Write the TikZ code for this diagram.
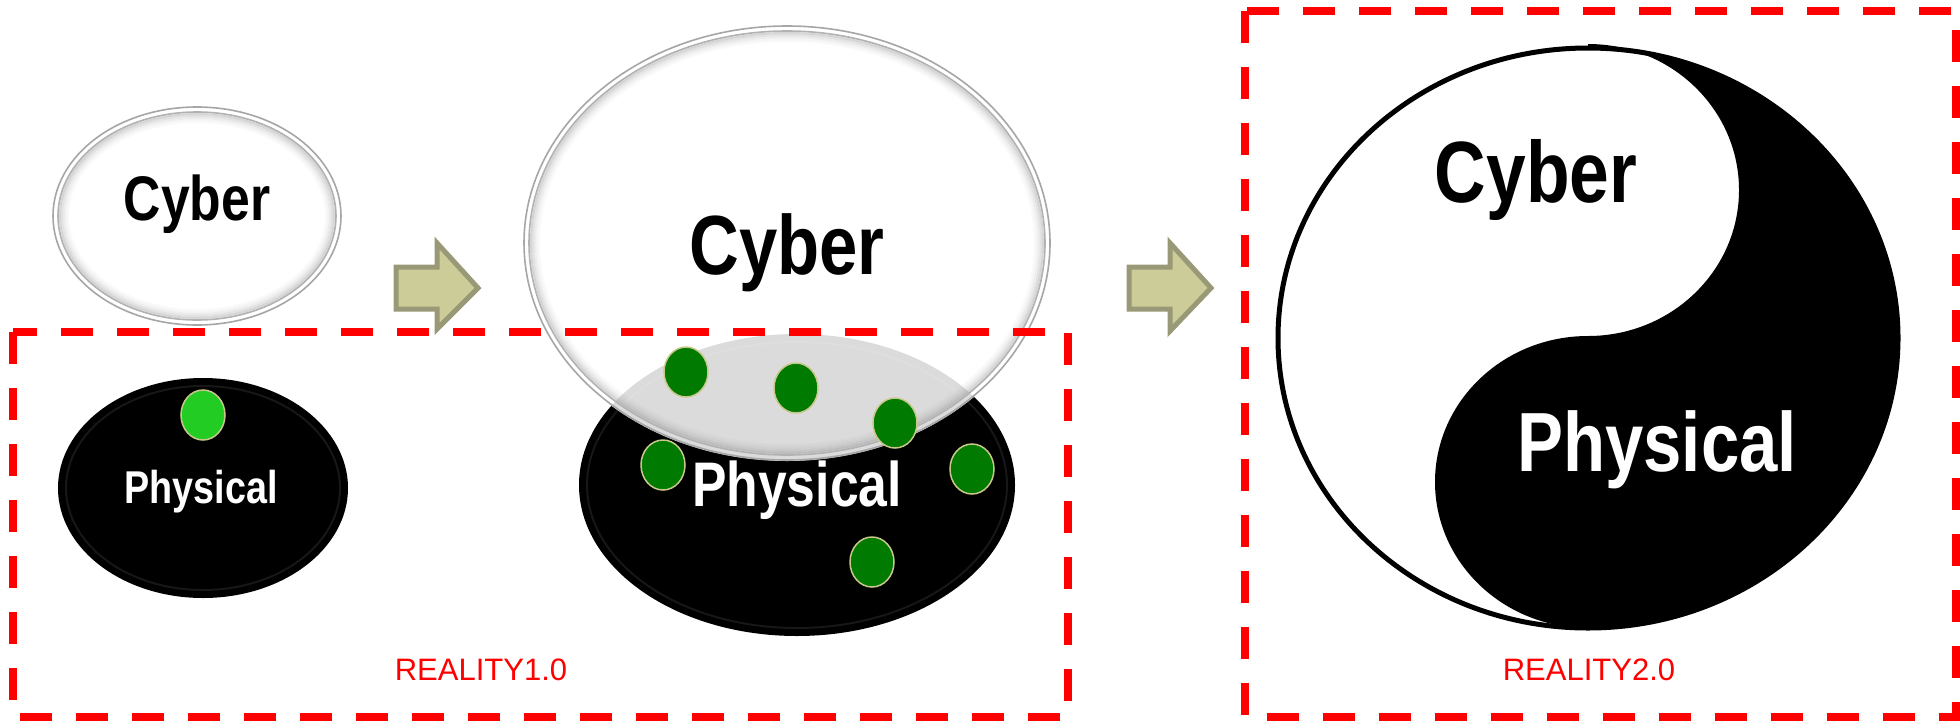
\documentclass[tikz,border=0pt]{standalone}
\usepackage{fontspec}
\setmainfont{Liberation Sans}
\newfontfamily\labelfont[FakeStretch=0.82]{Liberation Sans}

\definecolor{arrowfill}{HTML}{CCCC99}
\definecolor{arrowedge}{HTML}{999977}
\definecolor{brightgreen}{HTML}{22CC22}
\definecolor{darkgreen}{HTML}{007A00}
\definecolor{dottan}{HTML}{C8C88A}

\tikzset{
  reddash/.style={draw=red, line width=8pt, dash pattern=on 32pt off 24pt},
  word/.style={font=\labelfont\bfseries\fontsize{#1}{#1}\selectfont, inner sep=0pt, anchor=base},
  realitytag/.style={text=red, font=\fontsize{31}{31}\selectfont, inner sep=0pt, anchor=base},
  blockarrow/.style={fill=arrowfill, draw=arrowedge, line width=5pt, line join=miter},
  dotbright/.style={fill=brightgreen, draw=dottan, line width=1.5pt},
  dotdark/.style={fill=darkgreen, draw=dottan, line width=1.5pt},
  outerrim/.style={draw=gray!70, line width=1.6pt},
  innerrim/.style={draw=gray!60, line width=1.6pt},
  darkrim/.style={draw=gray!18!black, line width=2pt},
}

% bevelled glass rim of a white disc: centre, x radius, y radius
\newcommand\glassrim[3]{%
  \draw[outerrim] (#1) ellipse [x radius=#2-1, y radius=#3-1];
  \draw[innerrim] (#1) ellipse [x radius=#2-6, y radius=#3-6];
  \foreach \k/\op in {8/0.32, 10/0.22, 12/0.14, 14/0.08, 16/0.04}
    \draw[gray, line width=2pt, opacity=\op] (#1) ellipse [x radius=#2-\k, y radius=#3-\k];
}

\begin{document}
\begin{tikzpicture}[x=1pt, y=1pt, yscale=-1]
\useasboundingbox (0,0) rectangle (1960,721);
\fill[white] (0,0) rectangle (1960,721);

% ---- left pair: separate cyber and physical worlds ----
\fill[white] (197,216) ellipse [x radius=145, y radius=110];
\glassrim{197,216}{145}{110}

\fill[black] (203,488) ellipse [x radius=145, y radius=110];
\draw[darkrim] (203,488) ellipse [x radius=137, y radius=102];
\filldraw[dotbright] (203,415) ellipse [x radius=22, y radius=25];

\node[word=63] (cyberSmall) at (197,220) {Cyber};
\node[word=46, text=white] (physSmall) at (201,503) {Physical};

% ---- first step arrow ----
\filldraw[blockarrow] (396,267) -- (437,267) -- (437,243) -- (478,288)
  -- (437,329) -- (437,309) -- (396,309) -- cycle;

% ---- middle: cyber layer laid over the physical world ----
\fill[black] (797,485) ellipse [x radius=218, y radius=151];
\draw[darkrim] (797,485) ellipse [x radius=210, y radius=143];

\fill[white, opacity=0.86] (787,243) ellipse [x radius=264, y radius=218];
\glassrim{787,243}{264}{218}

\node[word=63, text=white] (physBig) at (797,506) {Physical};

\filldraw[dotdark] (686,372) ellipse [x radius=22, y radius=25];
\filldraw[dotdark] (796,388) ellipse [x radius=22, y radius=25];
\filldraw[dotdark] (895,423) ellipse [x radius=22, y radius=25];
\filldraw[dotdark] (663,465) ellipse [x radius=22, y radius=25];
\filldraw[dotdark] (972,469) ellipse [x radius=22, y radius=25];
\filldraw[dotdark] (872,562) ellipse [x radius=22, y radius=25];

\node[word=84] (cyberBig) at (787,274) {Cyber};

% ---- second step arrow ----
\filldraw[blockarrow] (1129,267) -- (1170,267) -- (1170,243) -- (1211,288)
  -- (1170,331) -- (1170,309) -- (1129,309) -- cycle;

% ---- right: cyber and physical as one whole ----
\fill[black] (1588,48) arc[start angle=-90, end angle=90, x radius=310, y radius=290]
  arc[start angle=90, end angle=270, x radius=153, y radius=146]
  arc[start angle=90, end angle=-90, x radius=151, y radius=146] -- cycle;
\draw[line width=5pt] (1588,338) ellipse [x radius=310, y radius=290];

\node[word=87] (cyberYY) at (1536,202) {Cyber};
\node[word=84, text=white] (physYY) at (1657,471) {Physical};

% ---- framing boxes ----
\draw[reddash] (13,332) rectangle (1068,717);
\draw[reddash] (1245,11) rectangle (1956,717);
\node[realitytag] (realityOne) at (481,680) {REALITY1.0};
\node[realitytag] (realityTwo) at (1589,680) {REALITY2.0};
\end{tikzpicture}
\end{document}
